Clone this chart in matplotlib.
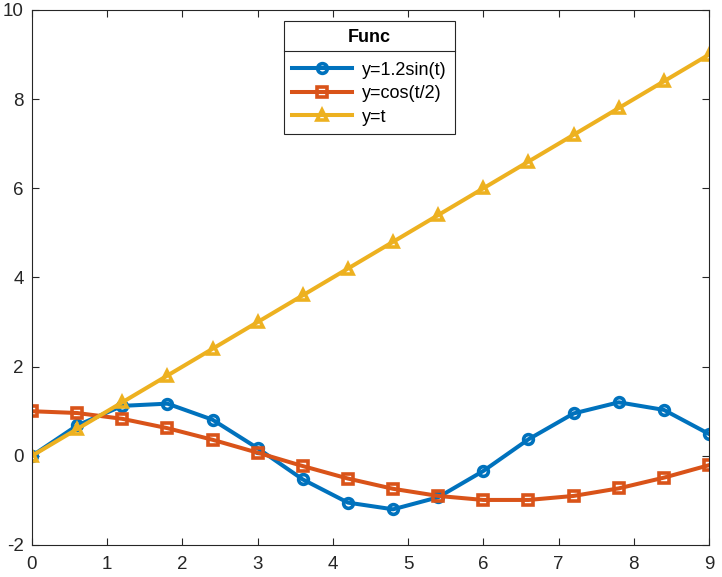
import matplotlib.pyplot as plt
from matplotlib.lines import Line2D

plt.rcParams['font.family'] = ['Liberation Sans', 'DejaVu Sans']
plt.rcParams['axes.unicode_minus'] = False

# data
t = [0, 0.6, 1.2, 1.8, 2.4, 3.0, 3.6, 4.2, 4.8, 5.4, 6.0, 6.6, 7.2, 7.8, 8.4, 9.0]
y_sin = [0, 0.68, 1.12, 1.17, 0.81, 0.17, -0.53, -1.05, -1.20, -0.93, -0.34, 0.37, 0.95, 1.20, 1.03, 0.49]
y_cos = [1.0, 0.96, 0.83, 0.62, 0.36, 0.07, -0.23, -0.51, -0.74, -0.90, -0.99, -0.99, -0.90, -0.73, -0.49, -0.21]
y_lin = [0, 0.6, 1.2, 1.8, 2.4, 3.0, 3.6, 4.2, 4.8, 5.4, 6.0, 6.6, 7.2, 7.8, 8.4, 9.0]

series = [
    (y_sin, 'y=1.2sin(t)', '#0072BD', 'o'),
    (y_cos, 'y=cos(t/2)', '#D95319', 's'),
    (y_lin, 'y=t', '#EDB120', '^'),
]

fig = plt.figure(figsize=(7.22, 5.77), dpi=100)
ax = fig.add_axes([0.0443, 0.0555, 0.9377, 0.9272])

for y, lab, col, m in series:
    ax.plot(t, y, color=col, lw=2.9, marker=m, markersize=7, markerfacecolor='none',
            markeredgewidth=2.6, label=lab)

ax.set_xlim(0, 9)
ax.set_ylim(-2, 10)
ax.set_xticks(range(0, 10))
ax.set_yticks(range(-2, 11, 2))
ax.tick_params(direction='in', top=True, right=True, labelsize=13.5, length=5,
               width=0.8, colors='#262626')
ax.tick_params(axis='x', pad=8)
ax.tick_params(axis='y', pad=6)
for s in ax.spines.values():
    s.set_color('#262626')
    s.set_linewidth(0.8)

leg = ax.legend(title='Func', loc='upper left', bbox_to_anchor=(0.372, 0.979),
                fontsize=13, title_fontproperties={'weight': 'bold', 'size': 13},
                fancybox=False, framealpha=1, edgecolor='#262626',
                handlelength=3.3, handletextpad=0.6, borderpad=0.45,
                labelspacing=0.36, borderaxespad=0)
leg.get_frame().set_linewidth(0.8)
leg._legend_box.sep = 11

# separator line under legend title
fig.canvas.draw()
bb = leg.get_frame().get_window_extent()
tb = leg.get_title().get_window_extent()
ysep = tb.y0 - 5
inv = fig.transFigure.inverted()
x0, y0 = inv.transform((bb.x0, ysep))
x1, _ = inv.transform((bb.x1, ysep))
fig.add_artist(Line2D([x0, x1], [y0, y0], color='#262626', lw=0.8))

fig.savefig('out.png', dpi=100)
